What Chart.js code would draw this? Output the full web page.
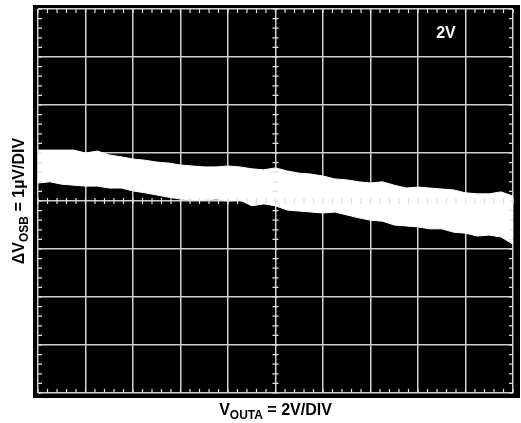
<!DOCTYPE html>
<html>
<head>
<meta charset="utf-8">
<script src="https://cdn.jsdelivr.net/npm/chart.js@4.4.1/dist/chart.umd.min.js"></script>
<style>
  body { margin: 0; background: #fff; }
  #wrap { width: 521px; height: 423px; }
</style>
</head>
<body>
<div id="wrap"><canvas id="scopeChart"></canvas></div>
<script>
// V_OUTA sweep (volts), 2V/div
const voutA = [-10, -9.5, -9, -8.5, -8, -7.5, -7, -6.5, -6, -5.5, -5, -4.5, -4, -3.5, -3, -2.5, -2, -1.5, -1, -0.5,
    0, 0.5, 1, 1.5, 2, 2.5, 3, 3.5, 4, 4.5, 5, 5.5, 6, 6.5, 7, 7.5, 8, 8.5, 9, 9.5, 10];
// top and bottom edges of the noisy trace, in µV
const traceTop = [1.06, 1.06, 1.06, 1.06, 1.0, 1.04, 0.96, 0.92, 0.875, 0.85, 0.81, 0.79, 0.75, 0.73, 0.71, 0.71, 0.73, 0.71, 0.67, 0.65,
    0.69, 0.625, 0.58, 0.56, 0.52, 0.46, 0.44, 0.40, 0.375, 0.40, 0.33, 0.27, 0.29, 0.27, 0.25, 0.23, 0.17, 0.15, 0.15, 0.19, 0.10];
const traceBottom = [0.375, 0.40, 0.35, 0.33, 0.31, 0.31, 0.27, 0.27, 0.21, 0.17, 0.125, 0.08, 0.04, 0.02, 0.02, 0.04, 0, 0.02, -0.10, -0.06,
    -0.10, -0.19, -0.21, -0.23, -0.25, -0.23, -0.29, -0.35, -0.40, -0.42, -0.50, -0.52, -0.54, -0.58, -0.58, -0.65, -0.67, -0.73, -0.71, -0.75, -0.90];
const xRange = [-10, 10];
const yRange = [-4, 4];
const scaleLabel = "2V";

const FONT = "'Liberation Sans', Arial, sans-serif";

const scopeFrame = {
    id: "scopeFrame",
    beforeDraw(chart) {
        const { ctx, chartArea: a } = chart;
        ctx.save();
        ctx.fillStyle = "#000";
        ctx.fillRect(a.left - 5, a.top - 4, a.right - a.left + 12, a.bottom - a.top + 9);
        ctx.restore();
    },
    afterDraw(chart) {
        const { ctx, chartArea: a, scales } = chart;
        const x = scales.x, y = scales.y;
        ctx.save();
        ctx.strokeStyle = "#e0e0e0";
        ctx.lineWidth = 1.2;
        ctx.beginPath();
        // minor ticks along x
        for (let v = xRange[0]; v <= xRange[1] + 0.001; v += 0.4) {
            const px = x.getPixelForValue(v);
            ctx.moveTo(px, a.top); ctx.lineTo(px, a.top + 4);
            ctx.moveTo(px, a.bottom); ctx.lineTo(px, a.bottom - 4);
            const cy = y.getPixelForValue(0);
            ctx.moveTo(px, cy - 3); ctx.lineTo(px, cy + 3);
        }
        // minor ticks along y
        for (let v = yRange[0]; v <= yRange[1] + 0.001; v += 0.2) {
            const py = y.getPixelForValue(v);
            ctx.moveTo(a.left, py); ctx.lineTo(a.left + 4, py);
            ctx.moveTo(a.right, py); ctx.lineTo(a.right - 4, py);
            const cx = x.getPixelForValue(0);
            ctx.moveTo(cx - 3, py); ctx.lineTo(cx + 3, py);
        }
        ctx.stroke();

        // scale annotation
        ctx.fillStyle = "#fff";
        ctx.font = "bold 16px " + FONT;
        ctx.textAlign = "center";
        ctx.textBaseline = "middle";
        ctx.fillText(scaleLabel, 446, 34);

        // axis titles with subscripts
        ctx.fillStyle = "#000";
        const drawTitle = (parts, cx, cy) => {
            let w = 0;
            parts.forEach(p => { ctx.font = (p.sub ? "bold 12px " : "bold 16px ") + FONT; w += ctx.measureText(p.t).width; });
            let px = cx - w / 2;
            ctx.textAlign = "left";
            ctx.textBaseline = "alphabetic";
            parts.forEach(p => {
                ctx.font = (p.sub ? "bold 12px " : "bold 16px ") + FONT;
                ctx.fillText(p.t, px, cy + (p.sub ? 4 : 0));
                px += ctx.measureText(p.t).width;
            });
        };
        drawTitle([{ t: "V" }, { t: "OUTA", sub: true }, { t: " = 2V/DIV" }], (a.left + a.right) / 2, 415);
        ctx.save();
        ctx.translate(24, (a.top + a.bottom) / 2);
        ctx.rotate(-Math.PI / 2);
        drawTitle([{ t: "ΔV" }, { t: "OSB", sub: true }, { t: " = 1µV/DIV" }], 0, 0);
        ctx.restore();
        ctx.restore();
    }
};

const scopeChart = new Chart(document.getElementById("scopeChart").getContext("2d"), {
    type: "line",
    data: {
        labels: voutA,
        datasets: [{
            data: traceTop,
            borderColor: "#fff",
            borderWidth: 1,
            pointRadius: 0,
            fill: false
        }, {
            data: traceBottom,
            borderColor: "#fff",
            backgroundColor: "#fff",
            borderWidth: 1,
            pointRadius: 0,
            fill: "-1"
        }]
    },
    options: {
        responsive: true,
        maintainAspectRatio: false,
        animation: false,
        layout: { padding: { left: 38, right: 8, top: 9, bottom: 30 } },
        plugins: {
            legend: { display: false },
            tooltip: { enabled: false }
        },
        scales: {
            x: {
                type: "linear",
                min: xRange[0],
                max: xRange[1],
                ticks: { display: false, stepSize: 2 },
                grid: { color: "#d0d0d0", lineWidth: 1.5, drawTicks: false },
                border: { display: false }
            },
            y: {
                min: yRange[0],
                max: yRange[1],
                ticks: { display: false, stepSize: 1 },
                grid: { color: "#d0d0d0", lineWidth: 1.5, drawTicks: false },
                border: { display: false }
            }
        }
    },
    plugins: [scopeFrame]
});
</script>
</body>
</html>
